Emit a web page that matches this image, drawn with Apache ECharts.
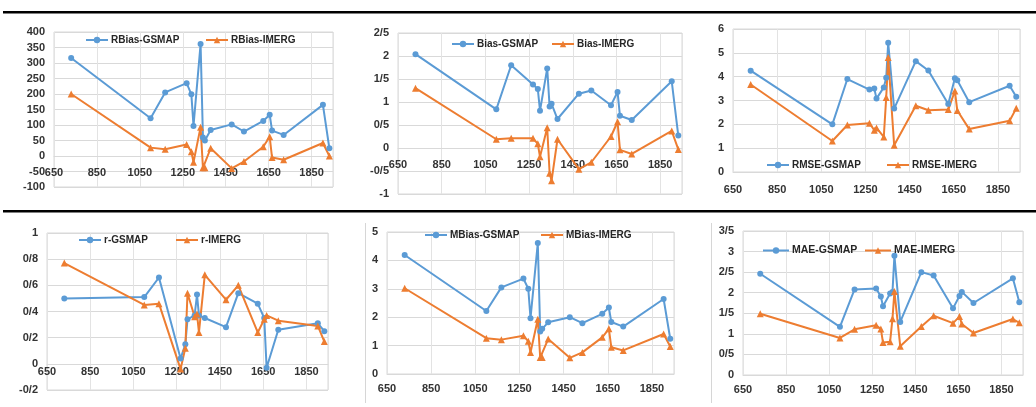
<!DOCTYPE html>
<html>
<head>
<meta charset="utf-8">
<script src="https://cdn.jsdelivr.net/npm/echarts@6/dist/echarts.min.js"></script>
<style>
  html, body { margin: 0; padding: 0; background: #fff; }
  #main { width: 1036px; height: 407px; }
</style>
</head>
<body>
<div id="main"></div>
<script>
// station elevation (x axis, m)
var elevation = [730, 1100, 1168, 1268, 1290, 1300, 1333, 1344, 1353, 1380, 1478, 1535, 1625, 1655, 1666, 1720, 1903, 1933];
var xTicks = [650, 850, 1050, 1250, 1450, 1650, 1850];

// RBias
var rbiasGsmap = [316, 122, 205, 235, 199, 97, 361, 60, 50, 84, 102, 79, 113, 133, 82, 68, 165, 25];
var rbiasImerg = [200, 27, 22, 37, 14, -20, 93, -38, -38, 25, -40, -18, 30, 62, -5, -12, 42, 0];
var rbiasTicks = [-100, -50, 0, 50, 100, 150, 200, 250, 300, 350, 400];

// Bias
var biasGsmap = [2.04, 0.84, 1.80, 1.38, 1.28, 0.81, 1.73, 0.90, 0.96, 0.63, 1.18, 1.25, 0.93, 1.22, 0.70, 0.61, 1.45, 0.27];
var biasImerg = [1.30, 0.19, 0.21, 0.21, 0.09, -0.19, 0.44, -0.55, -0.71, 0.19, -0.46, -0.31, 0.25, 0.57, -0.04, -0.13, 0.37, -0.03];
var biasTicks = [-1, -0.5, 0, 0.5, 1, 1.5, 2, 2.5];

// RMSE
var rmseGsmap = [4.25, 2.0, 3.9, 3.46, 3.5, 3.08, 3.55, 3.95, 5.42, 2.66, 4.65, 4.26, 2.85, 3.93, 3.85, 2.93, 3.62, 3.16];
var rmseImerg = [3.67, 1.3, 1.97, 2.05, 1.75, 1.85, 1.47, 3.13, 4.8, 1.12, 2.78, 2.59, 2.62, 3.4, 2.58, 1.8, 2.15, 2.67];
var rmseTicks = [0, 1, 2, 3, 4, 5, 6];

// r
var rGsmap = [0.50, 0.51, 0.66, 0.04, 0.15, 0.34, 0.37, 0.53, 0.37, 0.35, 0.28, 0.54, 0.46, 0.35, -0.03, 0.26, 0.31, 0.25];
var rImerg = [0.77, 0.45, 0.46, -0.04, 0.12, 0.54, 0.36, 0.38, 0.24, 0.68, 0.49, 0.60, 0.24, 0.34, 0.37, 0.33, 0.29, 0.17];
var rTicks = [-0.2, 0, 0.2, 0.4, 0.6, 0.8, 1];

// MBias
var mbiasGsmap = [4.19, 2.22, 3.05, 3.36, 3.0, 1.96, 4.61, 1.50, 1.59, 1.82, 2.0, 1.79, 2.12, 2.34, 1.83, 1.67, 2.64, 1.24];
var mbiasImerg = [3.02, 1.26, 1.21, 1.35, 1.15, 0.76, 1.93, 0.58, 0.58, 1.23, 0.57, 0.76, 1.29, 1.59, 0.94, 0.83, 1.41, 0.97];
var mbiasTicks = [0, 1, 2, 3, 4, 5];

// MAE
var maeGsmap = [2.46, 1.17, 2.08, 2.10, 1.91, 1.67, 1.98, 2.02, 2.9, 1.29, 2.5, 2.42, 1.62, 1.92, 2.02, 1.75, 2.35, 1.77];
var maeImerg = [1.49, 0.90, 1.11, 1.21, 1.12, 0.79, 0.81, 1.37, 2.03, 0.70, 1.18, 1.44, 1.26, 1.42, 1.24, 1.02, 1.36, 1.27];
var maeTicks = [0, 0.5, 1, 1.5, 2, 2.5, 3, 3.5];

var blue = '#5b9bd5', orange = '#ed7d31';
var font = "'Liberation Sans', Arial, sans-serif";

/* panel layout: grid box [left, top, width, height], legend icon x's + y centre, x label margin, legend size */
var panels = [
    {key: 'RBias', g: rbiasGsmap, i: rbiasImerg, ticks: rbiasTicks, grid: [54, 32, 279, 155], leg: [85, 205, 42], xm: 11, fs: 10},
    {key: 'Bias',  g: biasGsmap,  i: biasImerg,  ticks: biasTicks,  grid: [398, 33, 284, 161], leg: [451, 551, 46], xm: 11, fs: 10},
    {key: 'RMSE',  g: rmseGsmap,  i: rmseImerg,  ticks: rmseTicks,  grid: [733, 29, 287, 143], leg: [766, 886, 167], xm: 12, fs: 10},
    {key: 'r',     g: rGsmap,     i: rImerg,     ticks: rTicks,     grid: [47, 233, 281, 157], leg: [78, 175, 242], xm: 3, fs: 10},
    {key: 'MBias', g: mbiasGsmap, i: mbiasImerg, ticks: mbiasTicks, grid: [387, 232, 287, 142], leg: [424, 540, 237], xm: 9, fs: 10},
    {key: 'MAE',   g: maeGsmap,   i: maeImerg,   ticks: maeTicks,   grid: [743, 231, 280, 144], leg: [762, 864, 252], xm: 9, fs: 10.5}
];

function pairs(vals) {
    return elevation.map(function (x, k) { return [x, vals[k]]; });
}

var grids = [], xAxes = [], yAxes = [], series = [], legends = [];

panels.forEach(function (p, n) {
    var t = p.ticks;
    var yMin = t[0], yMax = t[t.length - 1];
    // x axis crosses the y axis at zero, as in the original
    var zeroShift = yMin < 0 ? -(0 - yMin) / (yMax - yMin) * p.grid[3] : 0;
    grids.push({
        left: p.grid[0], top: p.grid[1], width: p.grid[2], height: p.grid[3],
        show: true, borderColor: '#d9d9d9', borderWidth: 1
    });
    xAxes.push({
        type: 'value', gridIndex: n, position: 'bottom', offset: zeroShift,
        min: xTicks[0], max: 1950, interval: 200,
        axisLine: {onZero: false, lineStyle: {color: '#d9d9d9'}},
        axisTick: {show: false},
        splitLine: {show: true, lineStyle: {color: '#e3e3e3'}},
        axisLabel: {
            showMaxLabel: false, margin: p.xm,
            color: '#333', fontWeight: 'bold', fontSize: 11, fontFamily: font,
            formatter: function (v) { return String(v); }
        }
    });
    yAxes.push({
        type: 'value', gridIndex: n,
        min: yMin, max: yMax, interval: t[1] - t[0],
        axisLine: {show: false, onZero: false},
        axisTick: {show: false},
        splitLine: {lineStyle: {color: '#d9d9d9'}},
        axisLabel: {
            margin: 9, color: '#333', fontWeight: 'bold', fontSize: 11, fontFamily: font,
            // decimal separator in the original is drawn as '/'
            formatter: function (v) { return String(+v.toFixed(2)).replace('.', '/'); }
        }
    });
    var gName = p.key + '-GSMAP', iName = p.key + '-IMERG';
    series.push({
        name: gName, type: 'line', xAxisIndex: n, yAxisIndex: n,
        data: pairs(p.g), symbol: 'circle', symbolSize: 6,
        itemStyle: {color: blue}, lineStyle: {color: blue, width: 2}
    });
    series.push({
        name: iName, type: 'line', xAxisIndex: n, yAxisIndex: n,
        data: pairs(p.i), symbol: 'triangle', symbolSize: 7,
        itemStyle: {color: orange}, lineStyle: {color: orange, width: 2}
    });
    [[gName, p.leg[0]], [iName, p.leg[1]]].forEach(function (it) {
        legends.push({
            data: [it[0]], left: it[1], top: p.leg[2] - 7, padding: 0,
            itemWidth: n === 5 ? 26 : 22, itemHeight: 8, itemGap: 0,
            selectedMode: false,
            textStyle: {color: '#262626', fontWeight: 'bold', fontSize: p.fs, fontFamily: font, padding: [0, 0, 0, -2]}
        });
    });
});

var chart = echarts.init(document.getElementById('main'));
chart.setOption({
    animation: false,
    grid: grids,
    xAxis: xAxes,
    yAxis: yAxes,
    legend: legends,
    series: series,
    graphic: [
        {type: 'rect', shape: {x: 3, y: 11, width: 1033, height: 2.5}, style: {fill: '#000'}},
        {type: 'rect', shape: {x: 3, y: 210, width: 1033, height: 2.5}, style: {fill: '#000'}},
        {type: 'line', shape: {x1: 365.5, y1: 223, x2: 365.5, y2: 403}, style: {stroke: '#d6d6d6', lineWidth: 1}},
        {type: 'line', shape: {x1: 711.5, y1: 223, x2: 711.5, y2: 403}, style: {stroke: '#d6d6d6', lineWidth: 1}}
    ]
});
</script>
</body>
</html>
